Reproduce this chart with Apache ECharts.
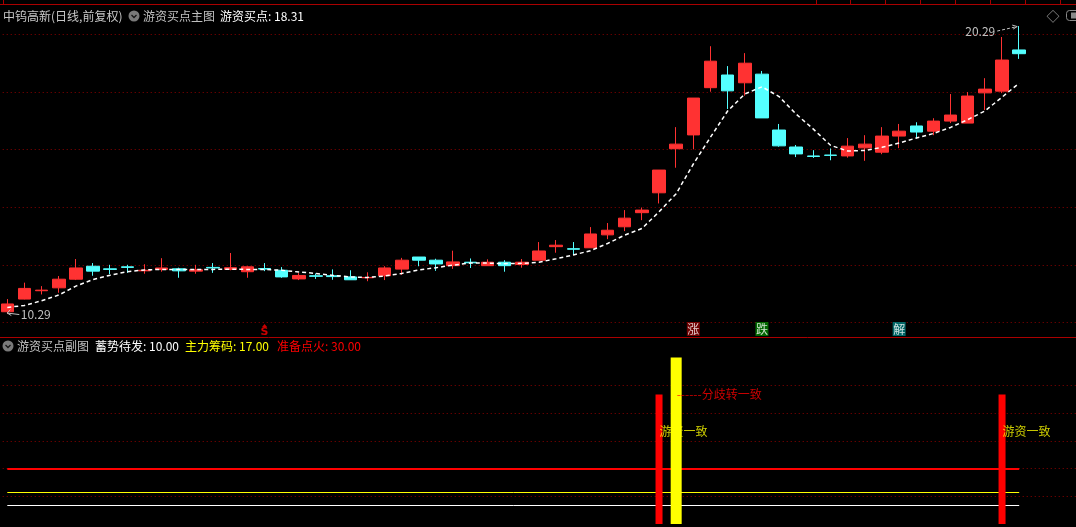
<!DOCTYPE html>
<html><head><meta charset="utf-8">
<script src="https://cdn.jsdelivr.net/npm/echarts@6/dist/echarts.min.js"></script>
<style>html,body{margin:0;padding:0;background:#000;}#c{width:1076px;height:527px;}</style>
</head><body><div id="c"></div>
<script>
// ---- data ----
const opens  = [10.37,10.81,11.10,11.20,11.50,11.95,11.86,11.93,11.79,11.84,
                11.86,11.78,11.91,11.84,11.76,11.87,11.81,11.51,11.62,11.62,
                11.58,11.55,11.62,11.85,12.27,12.16,11.97,12.09,11.97,12.09,
                12.01,12.16,12.63,12.56,12.59,13.04,13.32,13.81,14.50,16.03,
                16.51,18.15,18.59,18.32,18.62,16.68,16.09,15.78,15.81,15.78,
                16.06,15.91,16.47,16.82,16.64,16.99,16.92,17.97,18.03,19.46];
const closes = [10.64,11.18,11.12,11.50,11.89,11.78,11.84,11.91,11.81,11.89,
                11.79,11.83,11.89,11.90,11.93,11.85,11.58,11.63,11.60,11.59,
                11.48,11.56,11.89,12.16,12.16,12.03,12.10,12.07,12.09,11.97,
                12.09,12.48,12.68,12.54,13.07,13.20,13.62,13.90,15.29,16.19,
                17.79,19.07,18.04,19.00,17.10,16.13,15.85,15.76,15.80,16.12,
                16.19,16.47,16.64,16.61,16.99,17.20,17.86,18.10,19.11,19.33];
const lows   = [10.29,10.80,10.97,11.03,11.47,11.62,11.68,11.72,11.69,11.76,
                11.55,11.69,11.72,11.81,11.55,11.78,11.55,11.47,11.51,11.48,
                11.48,11.43,11.47,11.65,11.95,11.79,11.86,11.89,11.97,11.76,
                11.90,12.16,12.42,12.34,12.59,12.89,13.17,13.55,14.13,15.37,
                16.01,18.01,17.41,17.87,17.10,16.10,15.74,15.71,15.63,15.72,
                15.61,15.84,16.05,16.38,16.50,16.92,16.92,17.37,17.96,19.15];
const highs  = [10.81,11.38,11.26,11.61,12.20,12.06,12.00,12.00,12.02,12.23,
                11.90,12.00,12.06,12.41,11.95,12.06,11.92,11.71,11.70,11.84,
                11.81,11.74,11.95,12.24,12.27,12.21,12.49,12.22,12.19,12.16,
                12.20,12.79,12.86,12.79,13.31,13.45,13.90,13.99,15.29,16.78,
                17.79,19.59,18.90,19.35,18.73,16.89,16.16,15.98,16.04,16.40,
                16.50,16.78,16.89,16.95,17.09,17.93,18.00,18.48,19.91,20.29];
// 游资买点 (dashed line)
const buyLine = [10.52,10.59,10.75,10.95,11.26,11.49,11.64,11.76,11.82,11.84,
                 11.84,11.84,11.84,11.85,11.84,11.84,11.81,11.75,11.70,11.63,
                 11.58,11.56,11.61,11.70,11.82,11.90,11.99,12.06,12.06,12.04,
                 12.05,12.09,12.21,12.34,12.49,12.74,13.03,13.26,13.84,14.47,
                 15.50,16.43,17.34,17.93,18.18,17.84,17.23,16.71,16.15,15.95,
                 15.97,16.08,16.23,16.40,16.56,16.77,17.04,17.34,17.82,18.31];
// signal strip (candle indices)
const sigS = [15];
const sigUp = [40];
const sigDown = [44];
const sigJie = [52];
// sub chart
const xuShi = 10.00, zhuLi = 17.00, dianHuo = 30.00;
const redBarIdx = [38, 58];
const redBarVals = [70, 70];
const yellowBarIdx = [39];
const yellowBarVals = [90];
const youziTextIdx = [38, 58];
const youziTextVals = [50, 50];
const fenqiTextIdx = [39];
const fenqiTextVals = [70];
const subTicks = [0, 90, 15]; // min, max, interval

// ---- layout helpers ----
const N = opens.length;
const PAD = 3;
const cats = Array.from({length: N + PAD}, (_, i) => String(i));
const candle = opens.map((o, i) => [o, closes[i], lows[i], highs[i]]);
const FF = '"Noto Sans CJK SC", "Noto Sans", sans-serif';
const GL = -1.275, GW = 1080.5;
const dotLine = {show: true, showMinLine: false, showMaxLine: false,
                 lineStyle: {color: '#8c0000', type: [1, 3], width: 1}};

const chart = echarts.init(document.getElementById('c'), null, {renderer: 'canvas'});

const hidX = (gi) => ({type: 'category', gridIndex: gi, data: cats, boundaryGap: true, show: false});
const G = (top, height) => ({left: GL, width: GW, top: top, height: height,
                             containLabel: false, outerBoundsMode: 'none'});

const option = {
  backgroundColor: '#000',
  animation: false,
  grid: [G(20, 316.8), G(320, 17), G(357.55, 166.5)],
  xAxis: [
    {type: 'category', gridIndex: 0, data: cats, boundaryGap: true,
     axisLine: {show: true, lineStyle: {color: '#aa0000', width: 1}},
     axisTick: {show: false}, axisLabel: {show: false}, splitLine: {show: false}},
    hidX(1), hidX(2), hidX(2)
  ],
  yAxis: [
    {type: 'value', gridIndex: 0, min: 9.5, max: 20.5, splitNumber: 5,
     axisLine: {show: false}, axisTick: {show: false}, axisLabel: {show: false},
     splitLine: dotLine},
    {type: 'value', gridIndex: 1, min: 0, max: 1, show: false},
    {type: 'value', gridIndex: 2, min: subTicks[0], max: subTicks[1], interval: subTicks[2],
     axisLine: {show: false}, axisTick: {show: false}, axisLabel: {show: false},
     splitLine: dotLine}
  ],
  series: [
    {type: 'candlestick', xAxisIndex: 0, yAxisIndex: 0, data: candle, barWidth: 13,
     itemStyle: {color: '#ff3232', color0: '#54ffff', borderColor: '#ff3232',
                 borderColor0: '#54ffff', borderWidth: 1}, z: 2},
    {type: 'line', xAxisIndex: 0, yAxisIndex: 0, data: buyLine, symbol: 'none',
     lineStyle: {color: '#ffffff', width: 1.5, type: [4, 3]}, z: 3},
    // signals
    {type: 'scatter', xAxisIndex: 1, yAxisIndex: 1, data: sigS.map(i => [i, 0.5]),
     symbol: 'triangle', symbolSize: [5, 3], symbolOffset: [0, -3],
     itemStyle: {color: '#ff0000'},
     label: {show: true, position: 'inside', offset: [0, 6.5], formatter: 'S',
             color: '#ff0000', fontWeight: 'bold', fontSize: 11, fontFamily: 'DejaVu Sans'}},
    {type: 'scatter', xAxisIndex: 1, yAxisIndex: 1, data: sigUp.map(i => [i, 0.5]),
     symbol: 'rect', symbolSize: [13, 14], symbolOffset: [0, 0.5], itemStyle: {color: '#8b0000'},
     label: {show: true, position: 'inside', formatter: '涨', color: '#fff', fontSize: 12, fontFamily: FF}},
    {type: 'scatter', xAxisIndex: 1, yAxisIndex: 1, data: sigDown.map(i => [i, 0.5]),
     symbol: 'rect', symbolSize: [13, 14], symbolOffset: [0, 0.5], itemStyle: {color: '#008000'},
     label: {show: true, position: 'inside', formatter: '跌', color: '#fff', fontSize: 12, fontFamily: FF}},
    {type: 'scatter', xAxisIndex: 1, yAxisIndex: 1, data: sigJie.map(i => [i, 0.5]),
     symbol: 'rect', symbolSize: [13, 14], symbolOffset: [0, 0.5], itemStyle: {color: '#008080'},
     label: {show: true, position: 'inside', formatter: '解', color: '#fff', fontSize: 12, fontFamily: FF}},
    // sub chart constant lines
    {type: 'line', xAxisIndex: 2, yAxisIndex: 2, data: [], z: 1,
     markLine: {silent: true, symbol: 'none', animation: false, z: 1, label: {show: false},
       data: [
         [{coord: [cats[0], xuShi], lineStyle: {color: '#ffffff', width: 1, type: 'solid'}}, {coord: [cats[N - 1], xuShi]}],
         [{coord: [cats[0], zhuLi], lineStyle: {color: '#ffff00', width: 1, type: 'solid'}}, {coord: [cats[N - 1], zhuLi]}],
         [{coord: [cats[0], dianHuo], lineStyle: {color: '#ff0000', width: 2, type: 'solid'}}, {coord: [cats[N - 1], dianHuo]}]
       ]}},
    {type: 'bar', xAxisIndex: 2, yAxisIndex: 2, barWidth: 7, z: 2,
     data: redBarIdx.map((i, k) => [i, redBarVals[k]]), itemStyle: {color: '#ff0000'}},
    {type: 'scatter', xAxisIndex: 2, yAxisIndex: 2, z: 3, symbolSize: 1,
     itemStyle: {color: 'rgba(0,0,0,0)'},
     data: youziTextIdx.map((i, k) => [i, youziTextVals[k]]),
     label: {show: true, position: 'right', distance: 0, formatter: '游资一致',
             color: '#ffff00', fontSize: 12, fontFamily: FF}},
    {type: 'bar', xAxisIndex: 3, yAxisIndex: 2, barWidth: 11, z: 4,
     data: yellowBarIdx.map((i, k) => [i, yellowBarVals[k]]), itemStyle: {color: '#ffff00'}},
    {type: 'scatter', xAxisIndex: 2, yAxisIndex: 2, z: 5, symbolSize: 1,
     itemStyle: {color: 'rgba(0,0,0,0)'},
     data: fenqiTextIdx.map((i, k) => [i, fenqiTextVals[k]]),
     label: {show: true, position: 'right', distance: 0, formatter: '------分歧转一致',
             color: '#ff0000', fontSize: 12, fontFamily: FF}}
  ]
};
chart.setOption(option);

// ---- decorations / header texts ----
function T(x, y, s, color, size, align) {
  return {type: 'text', x: x, y: y, z: 100,
    style: {text: s, fill: color, font: (size || 12) + 'px ' + FF,
            align: align || 'left', textAlign: align || 'left',
            verticalAlign: 'middle', textVerticalAlign: 'middle'}};
}
function chevronIcon(cx, cy) {
  return [
    {type: 'circle', z: 100, shape: {cx: cx, cy: cy, r: 5.5}, style: {fill: '#7a7a7a'}},
    {type: 'polyline', z: 101, shape: {points: [[cx - 2.5, cy - 1], [cx, cy + 1.5], [cx + 2.5, cy - 1]]},
     style: {stroke: '#151515', lineWidth: 1.3, fill: null}}
  ];
}
const gfx = [];
// top strip
gfx.push({type: 'line', z: 100, shape: {x1: 0, y1: 4.5, x2: 1076, y2: 4.5}, style: {stroke: '#aa0000', lineWidth: 1}});
[3.5, 816.5, 850.5, 885.5, 920.5, 955.5, 990.5, 1025.5, 1060.5].forEach(x =>
  gfx.push({type: 'line', z: 100, shape: {x1: x, y1: 0, x2: x, y2: 4.5}, style: {stroke: '#aa0000', lineWidth: 1}}));
// main header
gfx.push(T(3, 16, '中钨高新(日线,前复权)', '#c8c8c8', 12));
gfx.push(...chevronIcon(134, 16));
gfx.push(T(143, 16, '游资买点主图', '#c0c0c0', 12));
gfx.push(T(220, 16, '游资买点: ' + buyLine[N - 1].toFixed(2), '#ffffff', 12));
// top-right icons
gfx.push(T(1053, 16, '◇', '#9a9a9a', 13, 'center'));
gfx.push({type: 'rect', z: 100, shape: {x: 1066.5, y: 10.5, width: 14, height: 10, r: 3}, style: {stroke: '#8a8a8a', fill: null, lineWidth: 1}});
gfx.push({type: 'rect', z: 100, shape: {x: 1071, y: 12.5, width: 6, height: 6}, style: {fill: '#8a8a8a'}});
// sub header
gfx.push(...chevronIcon(8, 346));
gfx.push(T(17, 346, '游资买点副图', '#c0c0c0', 12));
gfx.push(T(95, 346, '蓄势待发: ' + xuShi.toFixed(2), '#ffffff', 12));
gfx.push(T(185, 346, '主力筹码: ' + zhuLi.toFixed(2), '#ffff00', 12));
gfx.push(T(277, 346, '准备点火: ' + dianHuo.toFixed(2), '#ff0000', 12));

// max / min annotations through the chart scales
const hiVal = Math.max(...highs), hiIdx = highs.indexOf(hiVal);
const loVal = Math.min(...lows), loIdx = lows.indexOf(loVal);
const ph = chart.convertToPixel({gridIndex: 0}, [hiIdx, hiVal]);
const pl = chart.convertToPixel({gridIndex: 0}, [loIdx, loVal]);
gfx.push(T(ph[0] - 24, ph[1] + 5.5, hiVal.toFixed(2), '#c0c0c0', 12, 'right'));
gfx.push({type: 'line', z: 100, shape: {x1: ph[0] - 22, y1: ph[1] + 5, x2: ph[0] - 2, y2: ph[1] + 0.5},
          style: {stroke: '#c0c0c0', lineWidth: 1, lineDash: [3, 2]}});
gfx.push({type: 'polyline', z: 100, shape: {points: [[ph[0] - 7, ph[1] - 1], [ph[0] - 2, ph[1] + 0.5], [ph[0] - 6, ph[1] + 3]]},
          style: {stroke: '#c0c0c0', lineWidth: 1, fill: null}});
gfx.push(T(pl[0] + 13.5, pl[1] + 0.5, loVal.toFixed(2), '#c0c0c0', 12, 'left'));
gfx.push({type: 'line', z: 100, shape: {x1: pl[0] + 12, y1: pl[1] + 0.5, x2: pl[0], y2: pl[1] - 1},
          style: {stroke: '#c0c0c0', lineWidth: 1}});
gfx.push({type: 'polyline', z: 100, shape: {points: [[pl[0] + 3, pl[1] - 4.5], [pl[0], pl[1] - 1], [pl[0] + 4, pl[1] + 1.5]]},
          style: {stroke: '#c0c0c0', lineWidth: 1, fill: null}});

chart.setOption({graphic: gfx});
</script>
</body></html>
